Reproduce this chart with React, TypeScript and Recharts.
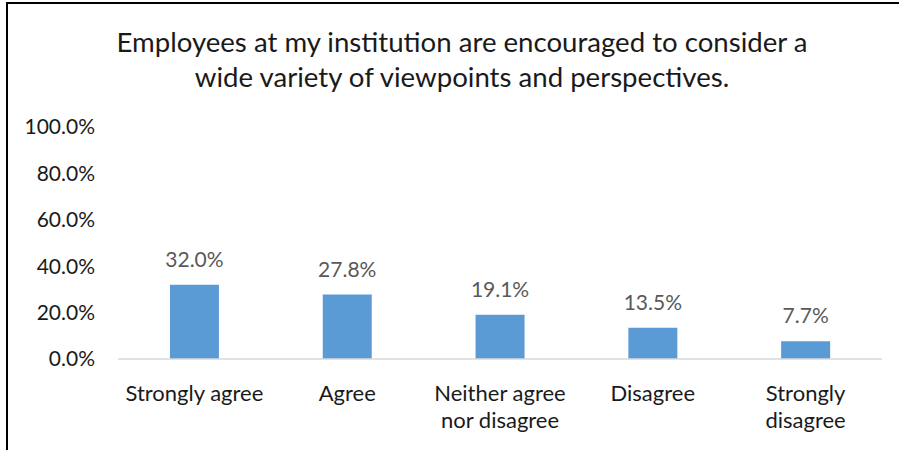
import React from "react";
import { BarChart, Bar, XAxis, YAxis, LabelList } from "recharts";

const categories = [
  "Strongly agree",
  "Agree",
  "Neither agree nor disagree",
  "Disagree",
  "Strongly disagree",
];
const values = [32.0, 27.8, 19.1, 13.5, 7.7];
const tickLines: Record<string, string[]> = {
  "Neither agree nor disagree": ["Neither agree", "nor disagree"],
  "Strongly disagree": ["Strongly", "disagree"],
};
const yTicks = [0, 20, 40, 60, 80, 100];
const titleLines = [
  "Employees at my institution are encouraged to consider a",
  "wide variety of viewpoints and perspectives.",
];

const FONT = "Lato, 'Open Sans', sans-serif";
const BAR = "#5B9BD5";

const data = categories.map((c, i) => ({ name: c, value: values[i] }));

const pct = (v: number) => `${v.toFixed(1)}%`;

function CategoryTick(props: any) {
  const { x, y, payload } = props;
  const lines = tickLines[payload.value] ?? [payload.value];
  return (
    <text
      x={x}
      y={y}
      textAnchor="middle"
      fill="#1a1a1a"
      fontSize={22}
      fontFamily={FONT}
    >
      {lines.map((l, i) => (
        <tspan key={i} x={x} dy={i === 0 ? 34 : 27}>
          {l}
        </tspan>
      ))}
    </text>
  );
}

export default function App() {
  return (
    <div style={{ position: "relative", width: 899, height: 450, background: "#fff" }}>
      <style>{"body{margin:0}"}</style>
      <div
        style={{
          position: "absolute",
          left: 6,
          top: 2,
          right: 0,
          bottom: 0,
          borderTop: "2px solid #000",
          borderLeft: "2px solid #000",
          pointerEvents: "none",
        }}
      />
      <div
        style={{
          position: "absolute",
          left: 12,
          width: 900,
          top: 24,
          textAlign: "center",
          fontFamily: FONT,
          fontSize: 27.6,
          lineHeight: "35px",
          color: "#1a1a1a",
        }}
      >
        {titleLines.map((t) => (
          <div key={t}>{t}</div>
        ))}
      </div>
      <div style={{ position: "absolute", left: 0, top: 0 }}>
        <BarChart
          width={899}
          height={450}
          data={data}
          margin={{ top: 127, right: 17, bottom: 0, left: 0 }}
          barCategoryGap="34%"
        >
          <XAxis
            dataKey="name"
            height={91}
            axisLine={{ stroke: "#D9D9D9", strokeWidth: 1.5 }}
            tickLine={false}
            interval={0}
            tick={<CategoryTick />}
          />
          <YAxis
            width={118}
            domain={[0, 100]}
            ticks={yTicks}
            tickFormatter={pct}
            axisLine={false}
            tickLine={false}
            tickSize={0}
            tickMargin={23}
            tick={{ fill: "#1a1a1a", fontSize: 21, fontFamily: FONT }}
          />
          <Bar dataKey="value" fill={BAR} isAnimationActive={false}>
            <LabelList
              dataKey="value"
              position="top"
              offset={18}
              formatter={(v: any) => pct(Number(v))}
              fill="#595959"
              fontSize={21}
              fontFamily={FONT}
            />
          </Bar>
        </BarChart>
      </div>
    </div>
  );
}
